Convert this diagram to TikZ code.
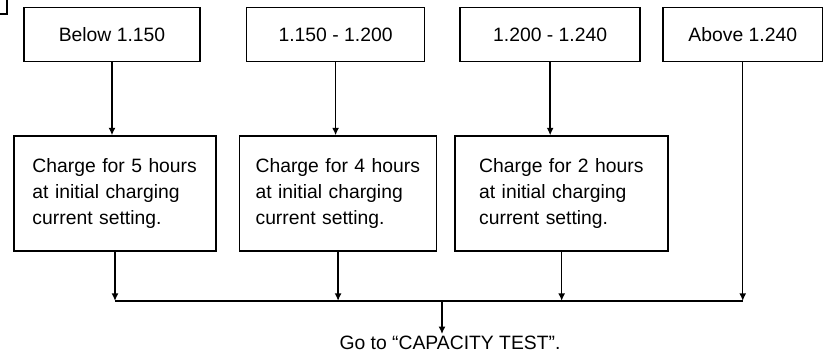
\documentclass[tikz,border=0pt]{standalone}
\usepackage{fontspec}
\setmainfont{Liberation Sans}
\usetikzlibrary{arrows.meta,positioning}
\tikzset{gravbox/.style={draw,line width=0.9pt,minimum height=10.8mm,align=center,font=\fontsize{11}{14.8}\selectfont},chargebox/.style={draw,line width=0.9pt,minimum height=23mm,text width=33mm,align=left,font=\fontsize{11}{14.8}\selectfont},arr/.style={-{Latex[length=1.5mm,width=1.4mm]},line width=0.8pt},busline/.style={line width=0.8pt}}

\begin{document}
\begin{tikzpicture}
\useasboundingbox (0,0) rectangle (164.6mm,-71.2mm);
\draw[line width=0.9pt] (0,-2.8mm) -- (1.4mm,-2.8mm) -- (1.4mm,0);
\node[gravbox,minimum width=35.2mm] (sglow) at (22.4mm,-6.9mm) {Below 1.150};
\node[gravbox,minimum width=35.6mm,right=9mm of sglow] (sgmid) {1.150 - 1.200};
\node[gravbox,minimum width=36mm,right=6.8mm of sgmid] (sghigh) {1.200 - 1.240};
\node[gravbox,minimum width=32mm,right=4.2mm of sghigh] (sgtop) {Above 1.240};
\node[chargebox,minimum width=40.4mm,below=14.6mm of sglow,xshift=0.6mm] (five) {Charge for 5 hours\\at initial charging\\current setting.};
\node[chargebox,minimum width=39.4mm,right=4.4mm of five] (four) {Charge for 4 hours\\at initial charging\\current setting.};
\node[chargebox,minimum width=42.6mm,right=3.4mm of four] (two) {Charge for 2 hours\\at initial charging\\current setting.};
\coordinate[below=9.8mm of five.south] (bus);
\node[font=\fontsize{11}{14.8}\selectfont,inner sep=1pt] (goto) at (90mm,-68.6mm) {Go to “CAPACITY TEST”.};
\draw[arr] (sglow.south) -- (sglow.south |- five.north);
\draw[arr] (sgmid.south) -- (sgmid.south |- four.north);
\draw[arr] (sghigh.south) -- (sghigh.south |- two.north);
\draw[arr] (five.south) -- (five.south |- bus);
\draw[arr] (four.south) -- (four.south |- bus);
\draw[arr] (two.south) -- (two.south |- bus);
\draw[arr] (sgtop.south) -- (sgtop.south |- bus);
\draw[busline] (five.south |- bus) -- (sgtop.south |- bus);
\draw[arr] ([xshift=-1.6mm]goto.north |- bus) -- ([xshift=-1.6mm]goto.north);
\end{tikzpicture}
\end{document}
